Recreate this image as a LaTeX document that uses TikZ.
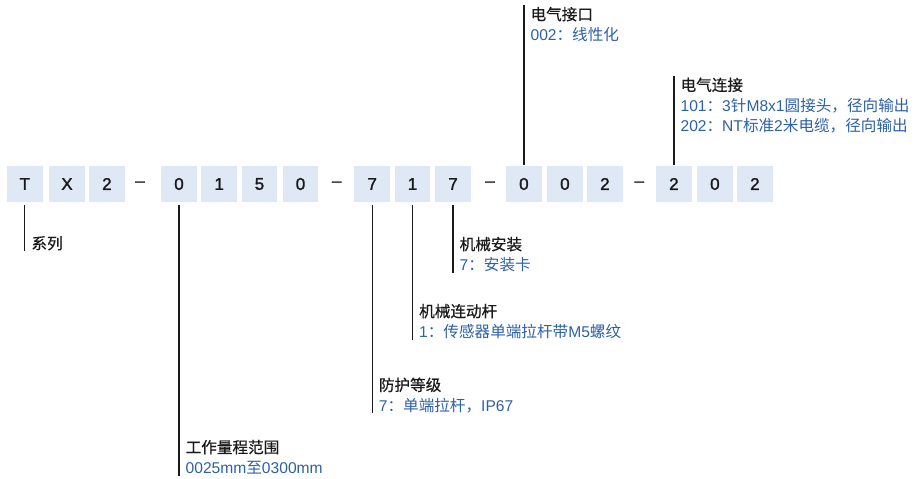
\documentclass[tikz,border=0pt]{standalone}
\usepackage{fontspec}
\setmainfont{Liberation Sans}
\newfontfamily\cjk{Noto Sans CJK SC}
\newfontfamily\cjkm{Noto Sans CJK SC}[FakeBold=0.6]
\newfontfamily\latm{Liberation Sans}[FakeBold=1.6]
\definecolor{boxblue}{HTML}{DFE8F5}
\definecolor{lblue}{HTML}{2C60A8}
\definecolor{txt}{HTML}{1A1A1A}
\newcommand\lstr{\rule[-1.8bp]{0pt}{16.7bp}}
\begin{document}
\begin{tikzpicture}[x=1bp,y=-1bp,
  cbox/.style={fill=boxblue, minimum width=35.7bp, minimum height=36bp, inner sep=0pt,
    font=\fontsize{17bp}{20bp}\latm, text=txt},
  dsh/.style={inner sep=0pt, font=\fontsize{17bp}{20bp}\latm, text=txt},
  lab/.style={anchor=north west, align=left, inner xsep=6.5bp, inner ysep=0pt,
    font=\fontsize{15.6bp}{20.5bp}\selectfont, text=txt},
  lead/.style={line width=1.3bp, draw=txt}]
\useasboundingbox (0,0) rectangle (916,479);

% code boxes
\node[cbox] (b1)  at (24.8,184) {T};
\node[cbox] (b2)  at (67,184) {X};
\node[cbox] (b3)  at (106.9,184) {2};
\node[dsh]  (d1)  at (140,184) {–};
\node[cbox] (b4)  at (179,184) {0};
\node[cbox] (b5)  at (219.2,184) {1};
\node[cbox] (b6)  at (259.5,184) {5};
\node[cbox] (b7)  at (300.5,184) {0};
\node[dsh]  (d2)  at (336.7,184) {–};
\node[cbox] (b8)  at (372.2,184) {7};
\node[cbox] (b9)  at (412.5,184) {1};
\node[cbox] (b10) at (453,184) {7};
\node[dsh]  (d3)  at (490,184) {–};
\node[cbox] (b11) at (523.9,184) {0};
\node[cbox] (b12) at (564.9,184) {0};
\node[cbox] (b13) at (604.9,184) {2};
\node[dsh]  (d4)  at (639.3,184) {–};
\node[cbox] (b14) at (673.9,184) {2};
\node[cbox] (b15) at (714.9,184) {0};
\node[cbox] (b16) at (754.9,184) {2};

% labels
\node[lab] (l1) at (b1.center |- 0,234) {\lstr{\cjkm 系列}};
\node[lab] (l4) at (b4.center |- 0,438) {\lstr{\cjkm 工作量程范围}\\
  \textcolor{lblue}{\lstr 0025mm{\cjk 至}0300mm}};
\node[lab] (l8) at (b8.center |- 0,375.7) {\lstr{\cjkm 防护等级}\\
  \textcolor{lblue}{\lstr 7{\cjk ：单端拉杆，}IP67}};
\node[lab] (l9) at (b9.center |- 0,302) {\lstr{\cjkm 机械连动杆}\\
  \textcolor{lblue}{\lstr 1{\cjk ：传感器单端拉杆带}M5{\cjk 螺纹}}};
\node[lab] (l10) at (b10.center |- 0,235) {\lstr{\cjkm 机械安装}\\
  \textcolor{lblue}{\lstr 7{\cjk ：安装卡}}};
\node[lab] (l11) at (b11.center |- 0,5) {\lstr{\cjkm 电气接口}\\
  \textcolor{lblue}{\lstr 002{\cjk ：线性化}}};
\node[lab] (l14) at (b14.center |- 0,75.7) {\lstr{\cjkm 电气连接}\\
  \textcolor{lblue}{\lstr 101{\cjk ：}3{\cjk 针}M8x1{\cjk 圆接头，径向输出}}\\
  \textcolor{lblue}{\lstr 202{\cjk ：}NT{\cjk 标准}2{\cjk 米电缆，径向输出}}};

% leader lines
\draw[lead] ([yshift=-3bp]b1.south) -- (b1.south |- l1.south);
\draw[lead] ([yshift=-3bp]b4.south) -- (b4.south |- l4.south);
\draw[lead] ([yshift=-3bp]b8.south) -- (b8.south |- l8.south);
\draw[lead] ([yshift=-3bp]b9.south) -- (b9.south |- l9.south);
\draw[lead] ([yshift=-3bp]b10.south) -- (b10.south |- l10.south);
\draw[lead] (b11.north |- l11.north) -- ([yshift=1bp]b11.north);
\draw[lead] (b14.north |- l14.north) -- ([yshift=1bp]b14.north);
\end{tikzpicture}
\end{document}
